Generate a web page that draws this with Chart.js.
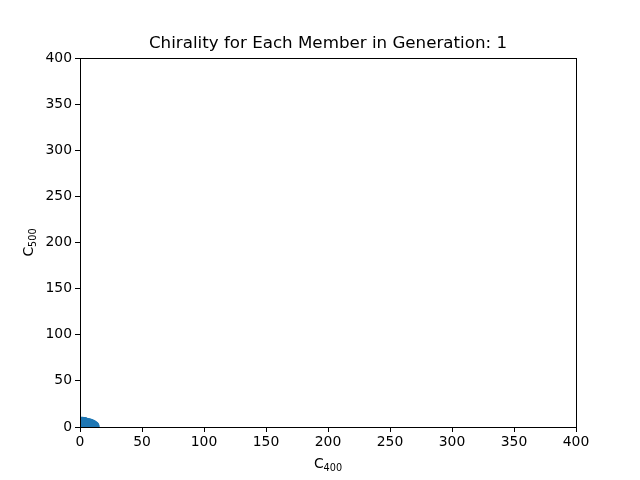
<!DOCTYPE html>
<html><head><meta charset="utf-8">
<script src="https://cdn.jsdelivr.net/npm/chart.js@4/dist/chart.umd.min.js"></script>
<style>html,body{margin:0;padding:0;background:#fff}#wrap{width:640px;height:480px}</style>
</head><body><div id="wrap"><canvas id="c" width="640" height="480"></canvas></div>
<script>
const titleText = "Chirality for Each Member in Generation: 1";
const xLabelBase = "C", xLabelSub = "400";
const yLabelBase = "C", yLabelSub = "500";
const c400 = [0,1,2,3,4,5,6,7,8,9,10,11,12,12.5,0,2,4,6,3,1,5,8,10,0,2,7,1,3,5,9,11,0.5,4,6.5,9.5,12];
const c500 = [6.6,6.6,6.5,6.4,6.2,5.6,5.3,4.8,4.6,4.1,3.6,2.8,1.8,0.6,0,2,1,2,3,4,0.5,1,0.5,3,4.5,1.5,2,0.5,2.5,1,0.4,1.5,3.5,3,2,0.2];
const ticks = [0,50,100,150,200,250,300,350,400];

const pts = c400.map((x,i)=>({x:x,y:c500[i]}));
const FAM = 'DejaVu Sans';
function drawSub(g, cx, cy, base, sub){
  g.font = '13.9px "'+FAM+'"';
  const wb = g.measureText(base).width;
  g.font = '9.7px "'+FAM+'"';
  const ws = g.measureText(sub).width;
  const x0 = cx - (wb+ws)/2;
  g.textAlign='left'; g.textBaseline='alphabetic';
  g.font = '13.9px "'+FAM+'"';
  g.fillText(base, x0, cy+5);
  g.font = '9.7px "'+FAM+'"';
  g.fillText(sub, x0+wb, cy+7.5);
}
const labels = {id:'labels', afterDraw(ch){
  const a=ch.chartArea,g=ch.ctx;g.save();g.fillStyle='#000';
  g.strokeStyle='#000';g.lineWidth=1;
  g.strokeRect(Math.round(a.left)+0.5,Math.round(a.top)+0.5,Math.round(a.right-a.left),Math.round(a.bottom-a.top));
  g.font='16.7px "'+FAM+'"';g.textAlign='center';g.textBaseline='middle';
  g.fillText(titleText,(a.left+a.right)/2,44);
  drawSub(g,(a.left+a.right)/2,463,xLabelBase,xLabelSub);
  g.translate(28,(a.top+a.bottom)/2);g.rotate(-Math.PI/2);
  drawSub(g,0,0,yLabelBase,yLabelSub);
  g.restore();}};
const font = {family:FAM, size:13.9};
new Chart(document.getElementById('c'),{
  type:'scatter',
  data:{datasets:[{data:pts, backgroundColor:'#1f77b4', borderColor:'#1f77b4', borderWidth:0, pointRadius:4.2, clip:0}]},
  options:{
    responsive:false, animation:false, devicePixelRatio:1,
    layout:{padding:{left:0,right:64,top:58,bottom:0}},
    plugins:{legend:{display:false}, tooltip:{enabled:false}, title:{display:false}},
    scales:{
      x:{type:'linear',min:0,max:400,afterFit(s){s.height=53;},
        afterBuildTicks(s){s.ticks=ticks.map(v=>({value:v}));},
        ticks:{color:'#000',font:font,padding:2,maxRotation:0},
        grid:{display:true,drawOnChartArea:false,drawTicks:true,tickLength:5,color:'#000'},
        border:{display:true,color:'#000'}},
      y:{type:'linear',min:0,max:400,afterFit(s){s.width=80;},
        afterBuildTicks(s){s.ticks=ticks.map(v=>({value:v}));},
        ticks:{color:'#000',font:font,padding:3},
        grid:{display:true,drawOnChartArea:false,drawTicks:true,tickLength:5,color:'#000'},
        border:{display:true,color:'#000'}}
    }
  },
  plugins:[labels]
});
</script></body></html>
